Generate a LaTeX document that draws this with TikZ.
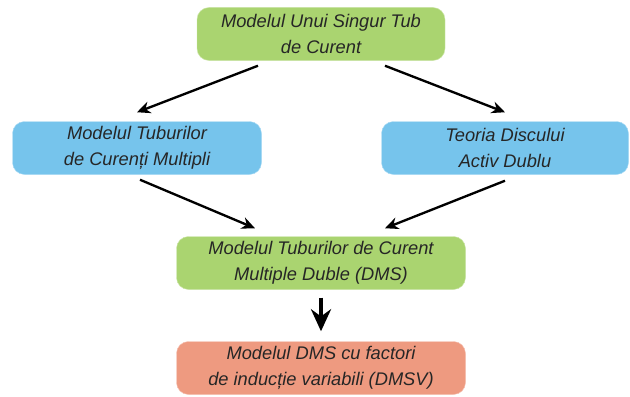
\documentclass[tikz,border=0pt]{standalone}
\usepackage{fontspec}
\setmainfont{Liberation Sans}
\usetikzlibrary{arrows.meta,positioning}
\definecolor{modelgreen}{RGB}{170,212,112}
\definecolor{modelblue}{RGB}{118,196,236}
\definecolor{modelred}{RGB}{238,154,128}

\begin{document}
\begin{tikzpicture}[
    box/.style={fill=#1, draw=#1!60!white, rounded corners=0.36cm, minimum height=1.59cm, align=center, font=\fontsize{15.6}{22.5}\selectfont\itshape, text=black!85},
    arr/.style={-{Stealth[length=4mm, width=3.6mm]}, line width=2pt},
    bigarr/.style={-{Stealth[length=6.6mm, width=6mm]}, line width=4pt}
]
\useasboundingbox (0,0) rectangle (18.9,11.88);
% Top
\node[box=modelgreen, minimum width=7.44cm] (single) at (9.63, 10.86) {Modelul Unui Singur Tub\\de Curent};

% Middle row
\node[box=modelblue, minimum width=7.47cm] (multi) at (4.11, 7.44) {Modelul Tuburilor\\de Curenți Multipli};
\node[box=modelblue, minimum width=7.41cm] (disc) at (15.15, 7.44) {Teoria Discului\\Activ Dublu};

% Lower
\node[box=modelgreen, minimum width=8.67cm] (dms) at (9.63, 3.99) {Modelul Tuburilor de Curent\\Multiple Duble (DMS)};
\node[box=modelred, minimum width=8.67cm] (dmsv) at (9.63, 0.84) {Modelul DMS cu factori\\de inducție variabili (DMSV)};

\draw[arr] ([xshift=-1.89cm, yshift=-0.15cm]single.south) -- ([xshift=0cm, yshift=0.27cm]multi.north);
\draw[arr] ([xshift=1.92cm, yshift=-0.15cm]single.south) -- ([xshift=0cm, yshift=0.27cm]disc.north);
\draw[arr] ([xshift=0.09cm, yshift=-0.15cm]multi.south) -- ([xshift=-1.98cm, yshift=0.24cm]dms.north);
\draw[arr] ([xshift=0cm, yshift=-0.18cm]disc.south) -- ([xshift=1.92cm, yshift=0.24cm]dms.north);
\draw[bigarr] ([yshift=-0.24cm]dms.south) -- ([yshift=0.3cm]dmsv.north);
\end{tikzpicture}
\end{document}
